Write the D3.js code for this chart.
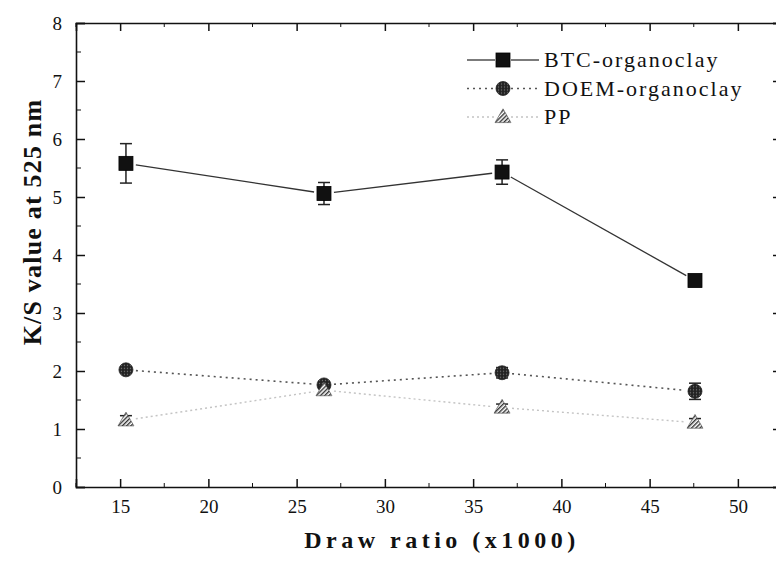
<!DOCTYPE html>
<html>
<head>
<meta charset="utf-8">
<script src="https://cdn.jsdelivr.net/npm/d3@7"></script>
<style>
  body { margin: 0; background: #fff; }
  svg text { font-family: "Liberation Serif", "Times New Roman", "DejaVu Serif", serif !important; }
</style>
</head>
<body>
<svg id="chart" width="776" height="564"></svg>
<script>
// Datos
const drawRatio = [15.33, 26.55, 36.64, 47.57];
const btcValues = [5.58, 5.06, 5.43, 3.56];
const btcErr = [0.34, 0.19, 0.21, 0.04];
const doemValues = [2.02, 1.76, 1.97, 1.65];
const doemErr = [0.05, 0.06, 0.09, 0.14];
const ppValues = [1.15, 1.67, 1.37, 1.11];
const ppErr = [0.08, 0.06, 0.06, 0.07];
const seriesNames = ["BTC-organoclay", "DOEM-organoclay", "PP"];
const xTicks = [15, 20, 25, 30, 35, 40, 45, 50];
const yTicks = [0, 1, 2, 3, 4, 5, 6, 7, 8];

const margin = { top: 23, right: -6, bottom: 77, left: 76 };
const W = 776, H = 564;
const width = W - margin.left - margin.right;
const height = H - margin.top - margin.bottom;

const svg = d3.select("#chart");

// Patrones de relleno para los marcadores
const defs = svg.append("defs");
const cross = defs.append("pattern")
    .attr("id", "crossPat").attr("width", 3).attr("height", 3)
    .attr("patternUnits", "userSpaceOnUse");
cross.append("rect").attr("width", 3).attr("height", 3).attr("fill", "#222");
cross.append("circle").attr("cx", 1.5).attr("cy", 1.5).attr("r", 0.7).attr("fill", "#777");

const hatch = defs.append("pattern")
    .attr("id", "hatchPat").attr("width", 3).attr("height", 3)
    .attr("patternUnits", "userSpaceOnUse")
    .attr("patternTransform", "rotate(45)");
hatch.append("rect").attr("width", 3).attr("height", 3).attr("fill", "#fff");
hatch.append("rect").attr("width", 1.4).attr("height", 3).attr("fill", "#333");

const g = svg.append("g").attr("transform", `translate(${margin.left},${margin.top})`);

// Escalas
const x = d3.scaleLinear().domain([12.5, 52.5]).range([0, width]);
const y = d3.scaleLinear().domain([0, 8]).range([height, 0]);

// Ejes (ticks hacia dentro)
const xMinor = d3.range(12.5, 52.6, 5);
const yMinor = d3.range(0.5, 8, 1);

g.append("g").attr("transform", `translate(0,${height})`)
    .call(d3.axisBottom(x).tickValues(xTicks).tickSize(-8).tickPadding(13).tickFormat(d3.format("d")))
    .call(a => a.append("g").selectAll("line").data(xMinor).join("line")
        .attr("x1", d => x(d)).attr("x2", d => x(d)).attr("y1", 0).attr("y2", -4).attr("stroke", "#111"));

g.append("g").call(d3.axisTop(x).tickValues(xTicks).tickSize(-8).tickFormat(""))
    .call(a => a.append("g").selectAll("line").data(xMinor).join("line")
        .attr("x1", d => x(d)).attr("x2", d => x(d)).attr("y1", 0).attr("y2", 4).attr("stroke", "#111"));

g.append("g")
    .call(d3.axisLeft(y).tickValues(yTicks).tickSize(-9).tickPadding(14).tickFormat(d3.format("d")))
    .call(a => a.append("g").selectAll("line").data(yMinor).join("line")
        .attr("y1", d => y(d)).attr("y2", d => y(d)).attr("x1", 0).attr("x2", 5).attr("stroke", "#111"));

g.append("g").attr("transform", `translate(${width},0)`)
    .call(d3.axisRight(y).tickValues(yTicks).tickSize(-9).tickFormat(""))
    .call(a => a.append("g").selectAll("line").data(yMinor).join("line")
        .attr("y1", d => y(d)).attr("y2", d => y(d)).attr("x1", 0).attr("x2", -5).attr("stroke", "#111"));

g.selectAll(".domain").attr("stroke", "#111").attr("stroke-width", 1.6);
g.selectAll(".tick line").attr("stroke", "#111").attr("stroke-width", 1.5);
g.selectAll(".tick text").attr("font-size", 19).attr("fill", "#111");

// Títulos de los ejes
svg.append("text")
    .attr("x", 442).attr("y", 548)
    .attr("text-anchor", "middle")
    .attr("font-size", 24).attr("font-weight", "bold")
    .attr("letter-spacing", 4.5)
    .attr("fill", "#111")
    .text("Draw ratio (x1000)");

svg.append("text")
    .attr("transform", "translate(41,222) rotate(-90)")
    .attr("text-anchor", "middle")
    .attr("font-size", 26).attr("font-weight", "bold")
    .attr("letter-spacing", 1.2)
    .attr("fill", "#111")
    .text("K/S value at 525 nm");

// Series
const series = [
    { name: seriesNames[0], values: btcValues, err: btcErr, stroke: "#333", dash: null, width: 1.3, marker: "square" },
    { name: seriesNames[1], values: doemValues, err: doemErr, stroke: "#555", dash: "2,4", width: 1.6, marker: "circle" },
    { name: seriesNames[2], values: ppValues, err: ppErr, stroke: "#c4c4c4", dash: "2,3", width: 1.4, marker: "triangle" }
];

function drawMarker(sel, type) {
    if (type === "square") {
        sel.append("rect").attr("x", -7).attr("y", -7).attr("width", 14).attr("height", 14)
            .attr("fill", "#111").attr("stroke", "#000").attr("stroke-width", 0.8);
    } else if (type === "circle") {
        sel.append("circle").attr("r", 7).attr("fill", "url(#crossPat)").attr("stroke", "#222").attr("stroke-width", 0.8);
    } else {
        sel.append("path").attr("d", d3.symbol(d3.symbolTriangle, 110)())
            .attr("transform", "translate(0,1)")
            .attr("fill", "url(#hatchPat)").attr("stroke", "#444").attr("stroke-width", 0.6);
    }
}

series.forEach(s => {
    const pts = drawRatio.map((d, i) => ({ x: d, y: s.values[i], e: s.err[i] }));

    // Segmentos de línea con huecos alrededor de los marcadores
    const gap = 10;
    for (let i = 0; i < pts.length - 1; i++) {
        const x0 = x(pts[i].x), y0 = y(pts[i].y), x1 = x(pts[i + 1].x), y1 = y(pts[i + 1].y);
        const len = Math.hypot(x1 - x0, y1 - y0);
        const ux = (x1 - x0) / len, uy = (y1 - y0) / len;
        g.append("line")
            .attr("x1", x0 + ux * gap).attr("y1", y0 + uy * gap)
            .attr("x2", x1 - ux * gap).attr("y2", y1 - uy * gap)
            .attr("stroke", s.stroke).attr("stroke-width", s.width)
            .attr("stroke-dasharray", s.dash);
    }

    // Barras de error
    const eb = g.append("g").attr("stroke", "#222").attr("stroke-width", 1.5);
    pts.forEach(p => {
        eb.append("line").attr("x1", x(p.x)).attr("x2", x(p.x))
            .attr("y1", y(p.y + p.e)).attr("y2", y(p.y - p.e));
        [p.y + p.e, p.y - p.e].forEach(v => {
            eb.append("line").attr("x1", x(p.x) - 6).attr("x2", x(p.x) + 6)
                .attr("y1", y(v)).attr("y2", y(v));
        });
    });

    g.append("g").selectAll("g").data(pts).join("g")
        .attr("transform", d => `translate(${x(d.x)},${y(d.y)})`)
        .each(function () { drawMarker(d3.select(this), s.marker); });
});

// Leyenda
const legend = svg.append("g").attr("transform", "translate(467,60)");
series.forEach((s, i) => {
    const row = legend.append("g").attr("transform", `translate(0,${i * 28.5})`);
    row.append("line").attr("x1", 0).attr("x2", 28).attr("stroke", s.stroke)
        .attr("stroke-width", s.width).attr("stroke-dasharray", s.dash);
    row.append("line").attr("x1", 44).attr("x2", 72).attr("stroke", s.stroke)
        .attr("stroke-width", s.width).attr("stroke-dasharray", s.dash);
    const m = row.append("g").attr("transform", "translate(36,0)");
    drawMarker(m, s.marker);
    row.append("text").attr("x", 77).attr("y", 7)
        .attr("font-size", 22).attr("letter-spacing", 2).attr("fill", "#111")
        .text(s.name);
});
</script>
</body>
</html>
